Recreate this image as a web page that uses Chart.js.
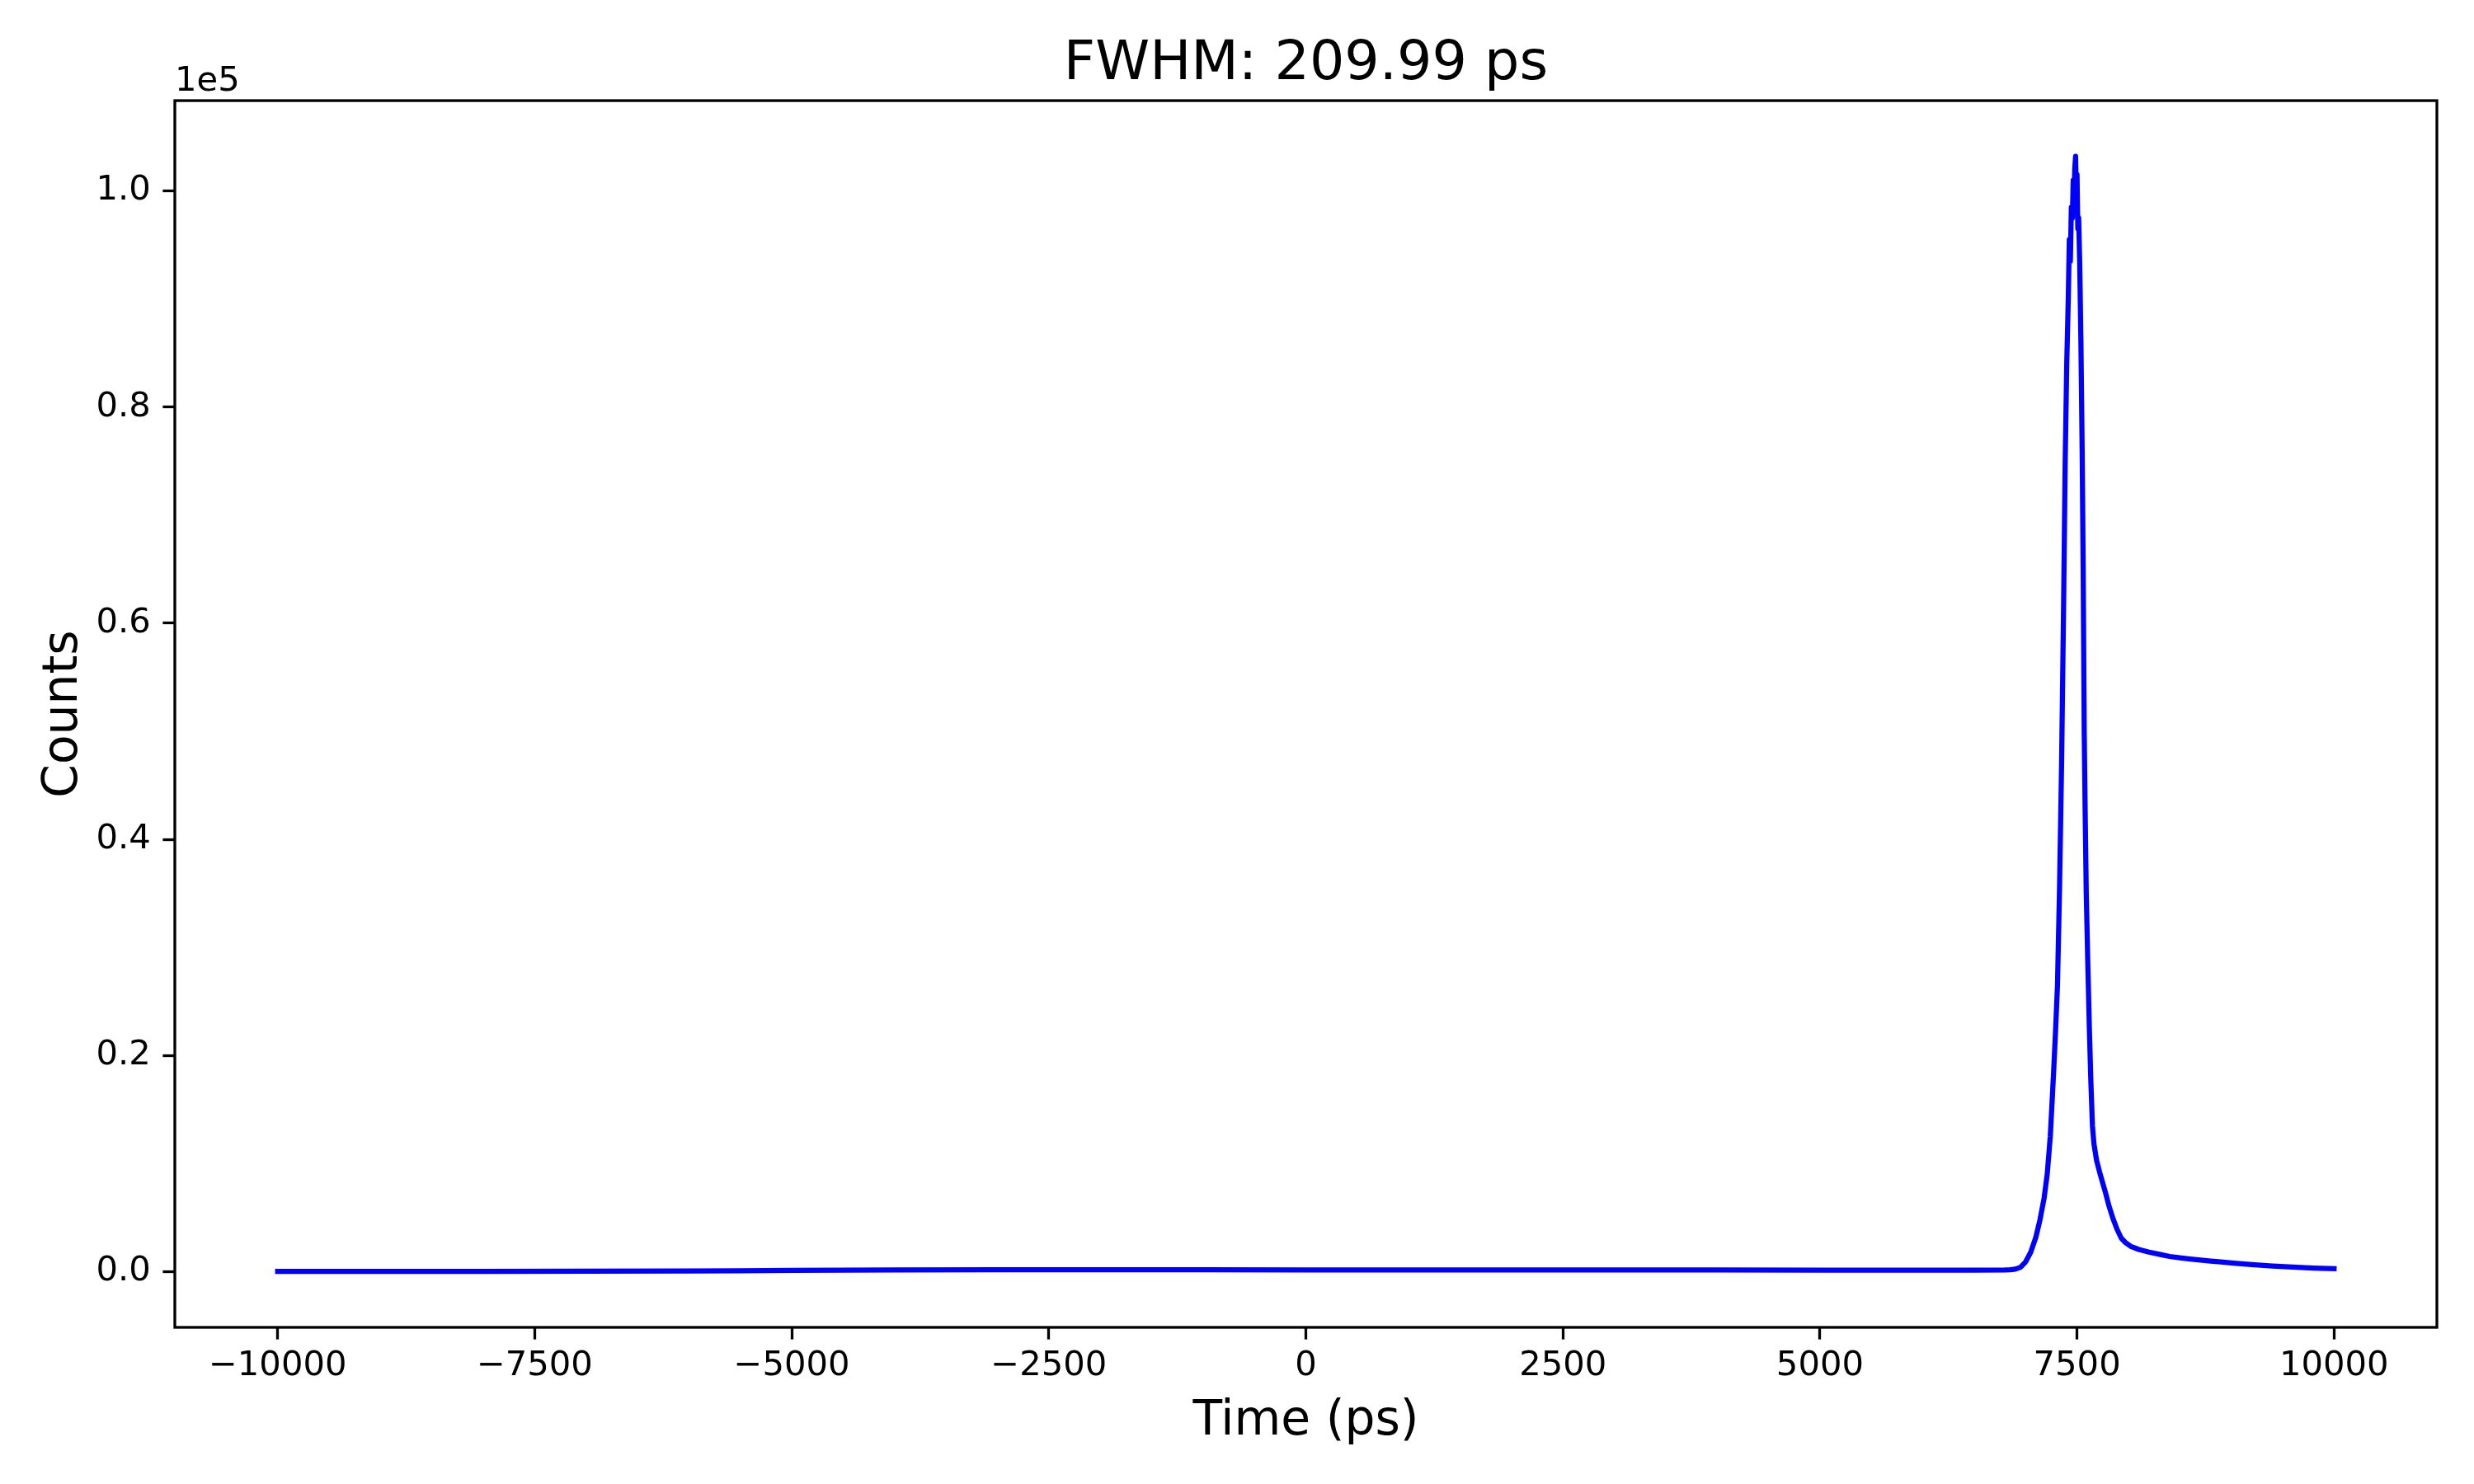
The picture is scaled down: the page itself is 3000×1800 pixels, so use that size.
<!DOCTYPE html>
<html>
<head>
<meta charset="utf-8">
<title>FWHM</title>
<script src="https://cdn.jsdelivr.net/npm/chart.js@4.4.1/dist/chart.umd.min.js"></script>
<style>
  html, body { margin: 0; padding: 0; background: #ffffff; }
  canvas { display: block; }
</style>
</head>
<body>
<canvas id="chart-fwhm" width="3000" height="1800"></canvas>
<script>
// Data (time in ps, raw counts)
const times = [-10000, -9000, -8000, -7000, -6000, -5500, -5000, -4500, -4000, -3000,
  -2000, -1000, 0, 1000, 2000, 3000, 4000, 5000, 6000, 6500,
  6800, 6850, 6900, 6950, 7000, 7050, 7100, 7140, 7180, 7210,
  7240, 7270, 7290, 7310, 7330, 7350, 7370, 7385, 7400, 7415,
  7425, 7435, 7445, 7455, 7463, 7470, 7478, 7486, 7493, 7500,
  7508, 7516, 7526, 7538, 7550, 7560, 7570, 7580, 7590, 7605,
  7620, 7635, 7650, 7665, 7690, 7720, 7750, 7780, 7810, 7850,
  7890, 7930, 7970, 8020, 8100, 8200, 8300, 8400, 8500, 8600,
  8700, 8800, 8900, 9000, 9100, 9200, 9400, 9600, 9800, 10000];

const counts = [20, 20, 25, 30, 50, 80, 110, 140, 160, 175,
  170, 165, 160, 160, 155, 150, 145, 140, 140, 140,
  150, 170, 230, 400, 900, 1800, 3200, 4800, 6800, 9000,
  12500, 18000, 22000, 26500, 35500, 47000, 62000, 75000, 84000, 90000,
  95500, 93500, 98500, 97500, 101000, 98500, 102000, 103200, 100000, 101500,
  96500, 97500, 93500, 86000, 76000, 65000, 50000, 42000, 35000, 28500,
  22500, 17500, 13500, 11800, 10300, 9200, 8200, 7200, 6100, 4900,
  3900, 3100, 2700, 2350, 2050, 1800, 1600, 1400, 1270, 1170,
  1070, 980, 890, 800, 720, 650, 520, 410, 330, 270];

const xTicks = [-10000, -7500, -5000, -2500, 0, 2500, 5000, 7500, 10000];
const yTicks = [0, 20000, 40000, 60000, 80000, 100000];

const FONT = 'DejaVu Sans';
Chart.defaults.font.family = FONT;
Chart.defaults.color = '#000000';

// matplotlib style minus sign
function formatX(v) {
    return v < 0 ? '\u2212' + Math.abs(v) : String(v);
}

// full frame around the plot + the "1e5" offset text
const framePlugin = {
    id: 'frame',
    afterDatasetsDraw(chart) {
        const { ctx, chartArea } = chart;
        ctx.save();
        ctx.strokeStyle = '#000000';
        ctx.lineWidth = 3.3;
        ctx.strokeRect(chartArea.left, chartArea.top,
            chartArea.right - chartArea.left, chartArea.bottom - chartArea.top);
        ctx.fillStyle = '#000000';
        ctx.font = '41.7px "' + FONT + '"';
        ctx.textAlign = 'left';
        ctx.textBaseline = 'alphabetic';
        ctx.fillText('1e5', chartArea.left, chartArea.top - 12);
        ctx.restore();
    }
};

const points = times.map((t, i) => ({ x: t, y: counts[i] }));

new Chart(document.getElementById('chart-fwhm'), {
    type: 'line',
    data: {
        datasets: [{
            data: points,
            borderColor: '#0000ff',
            borderWidth: 6.25,
            borderJoinStyle: 'round',
            borderCapStyle: 'square',
            pointRadius: 0,
            tension: 0,
            fill: false
        }]
    },
    options: {
        responsive: false,
        devicePixelRatio: 1,
        animation: false,
        layout: { padding: { left: 0, right: 45, top: 0, bottom: 0 } },
        plugins: {
            legend: { display: false },
            tooltip: { enabled: false },
            title: {
                display: true,
                fullSize: false,
                text: 'FWHM: 209.99 ps',
                font: { size: 66.7, weight: 'normal' },
                padding: { top: 39, bottom: 3 }
            }
        },
        scales: {
            x: {
                type: 'linear',
                min: -11000,
                max: 11000,
                afterFit(scale) { scale.height = 190; },
                afterBuildTicks(scale) { scale.ticks = xTicks.map(v => ({ value: v })); },
                border: { display: false },
                grid: {
                    drawOnChartArea: false,
                    drawTicks: true,
                    tickLength: 14.6,
                    tickWidth: 3.3,
                    tickColor: '#000000'
                },
                ticks: {
                    font: { size: 41.7 },
                    padding: 8,
                    maxRotation: 0,
                    autoSkip: false,
                    callback: v => formatX(v)
                },
                title: {
                    display: true,
                    text: 'Time (ps)',
                    font: { size: 58.3 },
                    padding: { top: 0, bottom: 40 }
                }
            },
            y: {
                type: 'linear',
                min: -5160,
                max: 108360,
                afterFit(scale) { scale.width = 212; },
                afterBuildTicks(scale) { scale.ticks = yTicks.map(v => ({ value: v })); },
                border: { display: false },
                grid: {
                    drawOnChartArea: false,
                    drawTicks: true,
                    tickLength: 14.6,
                    tickWidth: 3.3,
                    tickColor: '#000000'
                },
                ticks: {
                    font: { size: 41.7 },
                    padding: 14.6,
                    autoSkip: false,
                    callback: v => (v / 1e5).toFixed(1)
                },
                title: {
                    display: true,
                    text: 'Counts',
                    font: { size: 58.3 },
                    padding: { top: 43, bottom: 0 }
                }
            }
        }
    },
    plugins: [framePlugin]
});
</script>
</body>
</html>
